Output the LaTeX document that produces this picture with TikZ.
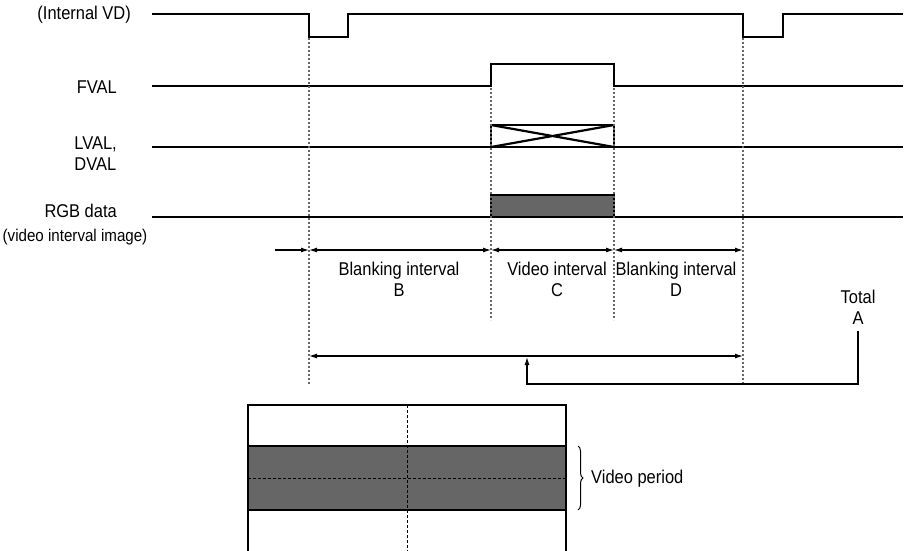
\documentclass[tikz,border=0pt]{standalone}
\usepackage{fontspec}
\setmainfont{Liberation Sans}[FakeStretch=0.89]
\usetikzlibrary{arrows.meta,decorations.pathreplacing}
\definecolor{fillgray}{HTML}{666666}
\definecolor{guidegray}{HTML}{666666}
\begin{document}
\begin{tikzpicture}[x=1pt,y=-1pt,
  sig/.style={line width=2.8pt, line join=miter},
  guide/.style={draw=guidegray, line width=1.3pt, dash pattern=on 2pt off 2pt},
  dimline/.style={line width=1.2pt, {Latex[length=8pt,width=5pt]}-{Latex[length=8pt,width=5pt]}},
  onearrow/.style={line width=1.2pt, -{Latex[length=8pt,width=5pt]}},
  lbl/.style={font=\fontsize{18.5}{21}\selectfont, inner sep=0pt},
  smalllbl/.style={font=\fontsize{17}{19}\selectfont, inner sep=0pt},
  framebox/.style={line width=1.8pt},
  thindash/.style={line width=1pt, dash pattern=on 3pt off 2pt}
]
\useasboundingbox (0,0) rectangle (909,550);
\clip (0,0) rectangle (909,550);

% labels
\node[lbl, anchor=east] (vdlbl) at (131,15) {(Internal VD)};
\node[lbl, anchor=east] (fvallbl) at (117,87) {FVAL};
\node[lbl, anchor=east, align=left] (lvallbl) at (117,154) {LVAL,\\DVAL};
\node[lbl, anchor=east] (rgblbl) at (117,211) {RGB data};
\node[smalllbl] (rgbsub) at (75,237) {(video interval image)};

% signals
\draw[sig] (152,14) -- (309,14) -- (309,37) -- (348,37) -- (348,14) -- (743,14) -- (743,37) -- (783,37) -- (783,14) -- (903,14);
\draw[sig] (152,86) -- (491,86) -- (491,64) -- (614,64) -- (614,86) -- (903,86);
\draw[sig] (152,147) -- (903,147);
\draw[line width=2.6pt] (491,125) rectangle (614,147);
\draw[line width=2.2pt] (491,125) -- (614,147) (491,147) -- (614,125);
\draw[sig] (152,217) -- (903,217);
\filldraw[fill=fillgray, line width=2.8pt] (491,195) rectangle (614,217);

% guides
\coordinate (g1t) at (309,38); \coordinate (g1b) at (309,385);
\coordinate (g2t) at (491,88); \coordinate (g2b) at (491,320);
\coordinate (g3t) at (614,88); \coordinate (g3b) at (614,320);
\coordinate (g4t) at (743,38); \coordinate (g4b) at (743,385);
\draw[guide] (g1t) -- (g1b);
\draw[guide] (g2t) -- (g2b);
\draw[guide] (g3t) -- (g3b);
\draw[guide] (g4t) -- (g4b);

% dimension row
\coordinate (d0) at (275,250);
\coordinate (d1) at (309,250);
\coordinate (d2) at (491,250);
\coordinate (d3) at (614,250);
\coordinate (d4) at (743,250);
\draw[onearrow] (d0) -- (d1);
\draw[dimline] (d1) -- (d2);
\draw[dimline] (d2) -- (d3);
\draw[dimline] (d3) -- (d4);

\node[lbl, align=center] (blankB) at (399,279) {Blanking interval\\B};
\node[lbl, align=center] (videoC) at (557,279) {Video interval\\C};
\node[lbl, align=center] (blankD) at (676,279) {Blanking interval\\D};
\node[lbl, align=center] (total) at (858,307) {Total\\A};

% total
\coordinate (t1) at (309,356);
\coordinate (t2) at (743,356);
\draw[dimline] (t1) -- (t2);
\coordinate (tc) at (527,357);
\draw[onearrow] (858,331) -- (858,384) -- (527,384) -- (tc);

% frame image
\fill[fillgray] (248,446) rectangle (566,510);
\draw[thindash] (407,405) -- (407,560);
\draw[thindash] (248,478) -- (566,478);
\draw[framebox] (248,560) -- (248,405) -- (566,405) -- (566,560);
\draw[framebox] (248,446) -- (566,446);
\draw[framebox] (248,510) -- (566,510);
\coordinate (br1) at (578,446);
\coordinate (br2) at (578,510);
\draw[line width=1pt, decorate, decoration={brace, amplitude=5pt}] (br1) -- (br2);
\node[lbl, anchor=west] (vp) at (591,479) {Video period};
\end{tikzpicture}
\end{document}
